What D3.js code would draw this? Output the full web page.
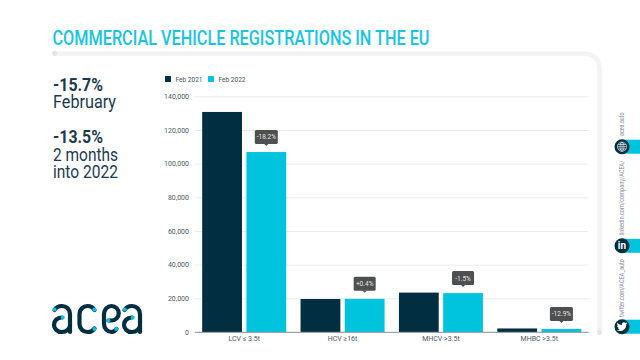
<!DOCTYPE html>
<html>
<head>
<meta charset="utf-8">
<script src="https://cdn.jsdelivr.net/npm/d3@7"></script>
<style>
    html, body { margin: 0; padding: 0; background: #fff; overflow: hidden; }
    text { font-family: Roboto, sans-serif; }
    .tick text { font-size: 7px; fill: #4a5761; }
</style>
</head>
<body>
<div id="chart"></div>
<script>
// chart data
const categories = ['LCV ≤ 3.5t', 'HCV ≥16t', 'MHCV >3.5t', 'MHBC >3.5t'];
const seriesNames = ['Feb 2021', 'Feb 2022'];
const feb2021 = [130700, 19600, 23400, 2100];
const feb2022 = [106900, 19700, 23100, 1800];
const changes = ['-18.2%', '+0.4%', '-1.5%', '-12.9%'];
const yTicks = [0, 20000, 40000, 60000, 80000, 100000, 120000, 140000];

const titleText = 'COMMERCIAL VEHICLE REGISTRATIONS IN THE EU';
const sideStats = [
    { big: '-15.7%', lines: ['February'] },
    { big: '-13.5%', lines: ['2 months', 'into 2022'] }
];
const socialLinks = ['acea.auto', 'linkedin.com/company/ACEA/', 'twitter.com/ACEA_auto'];

const navy = '#012e40';
const cyan = '#00c4de';
const textDark = '#1c3a4e';

const svg = d3.select('#chart').append('svg')
    .attr('width', 640)
    .attr('height', 360)
    .style('display', 'block');

// title
svg.append('text')
    .attr('x', 52.5)
    .attr('y', 45)
    .attr('textLength', 377)
    .attr('lengthAdjust', 'spacingAndGlyphs')
    .attr('font-size', 20)
    .attr('font-weight', 500)
    .attr('fill', '#18c4df')
    .text(titleText);

// grey frame round the chart
svg.append('path')
    .attr('d', 'M54.5,53.5 H583 Q599.5,53.5 599.5,70 V332')
    .attr('fill', 'none')
    .attr('stroke', '#f3f3f3')
    .attr('stroke-width', 4.5);
svg.append('circle').attr('cx', 54.5).attr('cy', 53.5).attr('r', 2.4).attr('fill', '#e3e3e3');
svg.append('circle').attr('cx', 599.5).attr('cy', 332.5).attr('r', 2.4).attr('fill', '#e3e3e3');

// left hand figures, one text block per figure so the lines sit tight
const statBaselines = [[90.5, 107.5], [143, 160.5, 178]];
const statWidths = [[50, 63], [50, 65, 65]];
sideStats.forEach((s, i) => {
    const block = svg.append('text')
        .attr('font-size', 17.5)
        .attr('fill', textDark);
    block.append('tspan')
        .attr('x', 53)
        .attr('y', statBaselines[i][0])
        .attr('font-weight', 700)
        .attr('textLength', statWidths[i][0])
        .attr('lengthAdjust', 'spacingAndGlyphs')
        .text(s.big);
    s.lines.forEach((l, j) => {
        block.append('tspan')
            .attr('x', 53)
            .attr('y', statBaselines[i][j + 1])
            .attr('textLength', statWidths[i][j + 1])
            .attr('lengthAdjust', 'spacingAndGlyphs')
            .text(l);
    });
});

// scales
const plot = { left: 195, right: 588.5, top: 96.3, bottom: 332 };

const x = d3.scaleBand()
    .domain(categories)
    .range([plot.left, plot.right])
    .paddingInner(0.146)
    .paddingOuter(0.073);

const xSubgroup = d3.scaleBand()
    .domain(seriesNames)
    .range([0, x.bandwidth()])
    .paddingInner(0.1);

const y = d3.scaleLinear()
    .domain([0, 140000])
    .range([plot.bottom, plot.top]);

const color = d3.scaleOrdinal().domain(seriesNames).range([navy, cyan]);

// y axis with gridlines
const yAxis = svg.append('g')
    .attr('transform', 'translate(' + plot.left + ',0)')
    .call(d3.axisLeft(y).tickValues(yTicks).tickFormat(d3.format(',')).tickSize(-(plot.right - plot.left)).tickPadding(6));
yAxis.select('.domain').remove();
yAxis.selectAll('.tick line').attr('stroke', '#ebebeb');

// bars
const rows = categories.map((c, i) => ({ category: c, values: [feb2021[i], feb2022[i]], change: changes[i] }));

const groups = svg.append('g')
    .selectAll('g')
    .data(rows)
    .enter()
    .append('g')
    .attr('transform', d => 'translate(' + x(d.category) + ',0)');

groups.selectAll('rect')
    .data(d => seriesNames.map((name, i) => ({ name: name, value: d.values[i] })))
    .enter().append('rect')
    .attr('x', d => xSubgroup(d.name))
    .attr('y', d => y(d.value))
    .attr('width', xSubgroup.bandwidth())
    .attr('height', d => plot.bottom - y(d.value))
    .attr('fill', d => color(d.name));

// zero line
svg.append('line')
    .attr('x1', plot.left).attr('x2', plot.right)
    .attr('y1', plot.bottom + 0.3).attr('y2', plot.bottom + 0.3)
    .attr('stroke', '#8b939a');

// x axis labels
const xAxis = svg.append('g')
    .attr('transform', 'translate(0,' + plot.bottom + ')')
    .call(d3.axisBottom(x).tickSize(0).tickPadding(4));
xAxis.select('.domain').remove();

// change labels above the 2022 bars
const badges = groups.append('g')
    .attr('transform', d => 'translate(' + (xSubgroup(seriesNames[1]) + xSubgroup.bandwidth() / 2) + ',' + y(d.values[1]) + ')');
badges.append('rect')
    .attr('x', d => d.change.length > 5 ? -11.5 : -11)
    .attr('y', -22)
    .attr('width', d => d.change.length > 5 ? 23 : 22)
    .attr('height', 14)
    .attr('rx', 1.5)
    .attr('fill', '#4d4f50');
badges.append('path')
    .attr('d', 'M-2,-8 L0,-6 L2,-8 Z')
    .attr('fill', '#4d4f50');
badges.append('text')
    .attr('y', -12.6)
    .attr('text-anchor', 'middle')
    .attr('font-size', 6.5)
    .attr('fill', '#e8e8e8')
    .text(d => d.change);

// legend
const legendX = [165, 208];
seriesNames.forEach((name, i) => {
    svg.append('rect')
        .attr('x', legendX[i]).attr('y', 76)
        .attr('width', 6).attr('height', 6)
        .attr('rx', 0.5)
        .attr('fill', color(name));
    svg.append('text')
        .attr('x', legendX[i] + 10.5).attr('y', 81.5)
        .attr('font-size', 7)
        .attr('textLength', 27)
        .attr('lengthAdjust', 'spacingAndGlyphs')
        .attr('fill', '#44525c')
        .text(name);
});

// acea logo
const logo = svg.append('g')
    .attr('fill', 'none')
    .attr('stroke', navy)
    .attr('stroke-width', 4.2)
    .attr('stroke-linecap', 'round');
const letterA = 'M54.5,310 A8.5,8 0 0 1 62,306 A8,8 0 0 1 70,314 V332 M62,317.5 H61.5 A7.5,7.25 0 0 0 61.5,332 H62 A8,7 0 0 0 70,325';
logo.append('path').attr('d', letterA);
logo.append('path').attr('d', letterA).attr('transform', 'translate(70,0)');
logo.append('path').attr('d', 'M94.5,310 A8,8 0 0 0 87.5,306 A8,8 0 0 0 79.5,314 V324 A8,8 0 0 0 87.5,332 A8,8 0 0 0 94.5,328.5');
logo.append('path').attr('d', 'M108.5,320.5 H111.5 A7.25,7.25 0 0 0 111.5,306 A7.5,8 0 0 0 104,314 V324 A7.5,8 0 0 0 111.5,332 A7,7 0 0 0 116.5,329');
const logoDots = [[54.5, 309.5], [62.7, 317.4], [94.4, 309.5], [94.4, 329], [108.4, 320.6], [116.2, 329], [124.8, 309.5], [132.7, 317.4]];
svg.append('g').selectAll('circle')
    .data(logoDots)
    .enter().append('circle')
    .attr('cx', d => d[0]).attr('cy', d => d[1])
    .attr('r', 2)
    .attr('fill', cyan);

// social links on the right
const iconY = [146.7, 245.8, 326.7];
const labelBottom = [136, 235.5, 317];
const labelLength = [23.5, 75, 58];
socialLinks.forEach((link, i) => {
    svg.append('rect')
        .attr('x', 622).attr('y', iconY[i] - 7)
        .attr('width', 18).attr('height', 14)
        .attr('fill', cyan);
    svg.append('circle')
        .attr('cx', 622).attr('cy', iconY[i])
        .attr('r', 7.5)
        .attr('fill', navy);
    svg.append('text')
        .attr('transform', 'translate(624,' + labelBottom[i] + ') rotate(-90)')
        .attr('font-size', 6.3)
        .attr('textLength', labelLength[i])
        .attr('lengthAdjust', 'spacingAndGlyphs')
        .attr('fill', '#8a8f93')
        .text(link);
});

// globe
const globe = svg.append('g')
    .attr('transform', 'translate(622,' + iconY[0] + ')')
    .attr('fill', 'none')
    .attr('stroke', '#fff')
    .attr('stroke-width', 0.6);
globe.append('circle').attr('r', 4.6);
globe.append('ellipse').attr('rx', 2).attr('ry', 4.6);
globe.append('path').attr('d', 'M-4.6,0 H4.6 M-4,-2.2 H4 M-4,2.2 H4 M0,-4.6 V4.6');

// linkedin
svg.append('text')
    .attr('x', 622).attr('y', iconY[1] + 3.6)
    .attr('text-anchor', 'middle')
    .attr('font-size', 10)
    .attr('font-weight', 700)
    .attr('fill', '#fff')
    .text('in');

// twitter bird
svg.append('path')
    .attr('transform', 'translate(616.6,' + (iconY[2] - 5.4) + ') scale(0.45)')
    .attr('fill', '#fff')
    .attr('d', 'M23.953 4.57a10 10 0 01-2.825.775 4.958 4.958 0 002.163-2.723c-.951.555-2.005.959-3.127 1.184a4.92 4.92 0 00-8.384 4.482C7.69 8.095 4.067 6.13 1.64 3.162a4.822 4.822 0 00-.666 2.475c0 1.71.87 3.213 2.188 4.096a4.904 4.904 0 01-2.228-.616v.06a4.923 4.923 0 003.946 4.827 4.996 4.996 0 01-2.212.085 4.936 4.936 0 004.604 3.417 9.867 9.867 0 01-6.102 2.105c-.39 0-.779-.023-1.17-.067a13.995 13.995 0 007.557 2.209c9.053 0 13.998-7.496 13.998-13.985 0-.21 0-.42-.015-.63A9.935 9.935 0 0024 4.59z');
</script>
</body>
</html>
